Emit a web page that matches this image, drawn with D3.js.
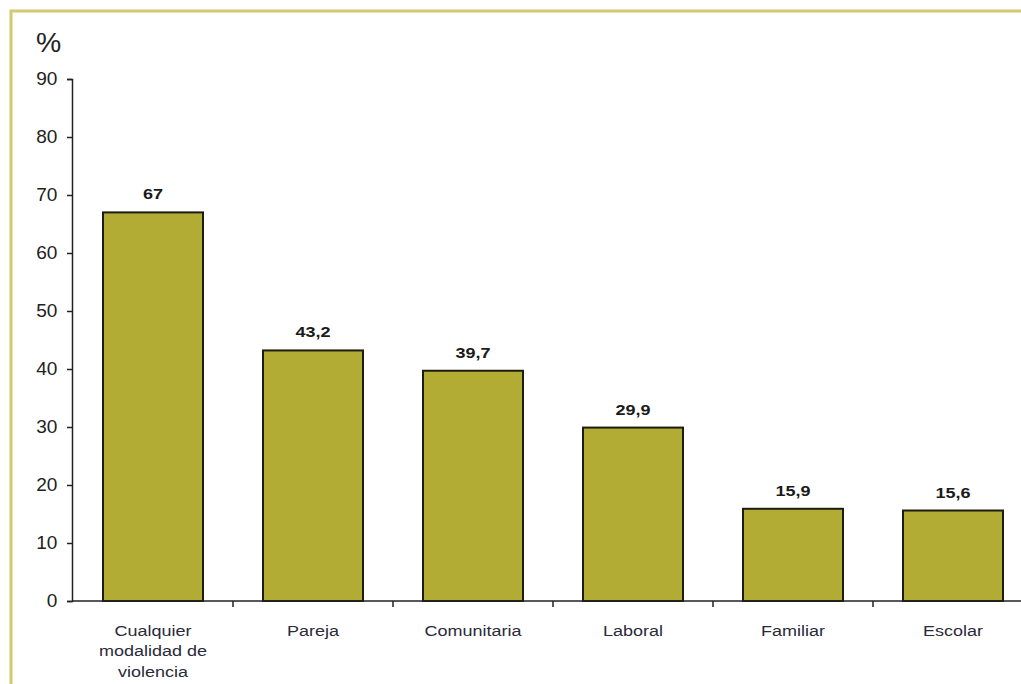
<!DOCTYPE html>
<html><head><meta charset="utf-8">
<script src="https://cdn.jsdelivr.net/npm/d3@7"></script>
<style>body{margin:0;background:#fff}svg{display:block}</style>
</head><body>
<script>
const categories = [["Cualquier","modalidad de","violencia"],["Pareja"],["Comunitaria"],["Laboral"],["Familiar"],["Escolar"]];
const values = [67, 43.2, 39.7, 29.9, 15.9, 15.6];
const valueLabels = ["67","43,2","39,7","29,9","15,9","15,6"];
const yTicks = [0,10,20,30,40,50,60,70,80,90];

const W = 1021, H = 684;
const FONT = "Liberation Sans, Arial, sans-serif";
const svg = d3.select("body").append("svg").attr("width", W).attr("height", H);

// frame
svg.append("path").attr("d", `M11,${H+5} L11,11 L${W+5},11`)
  .attr("fill","none").attr("stroke","#d6c872").attr("stroke-width",3);

const ids = categories.map((c,i)=>i);
const x = d3.scaleBand().domain(ids).range([73, 1033]).paddingInner(0.375).paddingOuter(0.1875);
const y = d3.scaleLinear().domain([0,90]).range([601,79]);

// y axis
const yAxis = d3.axisLeft(y).tickValues(yTicks).tickSize(5).tickPadding(9);
const gy = svg.append("g").attr("transform","translate(72,0)").call(yAxis);
gy.select(".domain").attr("stroke","#222").attr("stroke-width",1.5);
gy.selectAll(".tick line").attr("stroke","#222").attr("stroke-width",1.5);
gy.selectAll("text").attr("font-family",FONT).attr("font-size",18).attr("fill","#222")
  .attr("transform","scale(1.06,1)").attr("x",-14*1/1.06 - 0.6);

// bars
svg.append("g").selectAll("rect").data(values).join("rect")
  .attr("x",(d,i)=>x(i)).attr("width",x.bandwidth())
  .attr("y",d=>y(d)).attr("height",d=>y(0)-y(d))
  .attr("fill","#b3ac34").attr("stroke","#1c1c10").attr("stroke-width",2);

// x axis
svg.append("line").attr("x1",72).attr("x2",W+5).attr("y1",y(0)).attr("y2",y(0))
  .attr("stroke","#222").attr("stroke-width",1.5);
const bounds = ids.slice(1).map(i => x(i) - x.step()*x.paddingInner()/2);
svg.append("g").selectAll("line").data(bounds).join("line")
  .attr("x1",d=>d).attr("x2",d=>d).attr("y1",y(0)).attr("y2",y(0)+6)
  .attr("stroke","#222").attr("stroke-width",1.5);

// value labels
svg.append("g").selectAll("text").data(values).join("text")
  .attr("transform",(d,i)=>`translate(${x(i)+x.bandwidth()/2},${y(d)-13}) scale(1.2,1)`)
  .attr("text-anchor","middle").attr("font-family",FONT)
  .attr("font-size",15).attr("font-weight","bold").attr("fill","#1a1a1a")
  .text((d,i)=>valueLabels[i]);

// category labels
const cg = svg.append("g").selectAll("text").data(categories).join("text")
  .attr("transform",(d,i)=>`translate(${x(i)+x.bandwidth()/2},636) scale(1.2,1)`)
  .attr("text-anchor","middle").attr("font-family",FONT)
  .attr("font-size",15).attr("fill","#2a2a3a");
cg.selectAll("tspan").data(d=>d).join("tspan")
  .attr("x",0).attr("dy",(d,j)=>j===0?0:20.5).text(d=>d);

// unit
svg.append("text").attr("transform","translate(36,52) scale(1.05,1)").attr("font-family",FONT)
  .attr("font-size",27).attr("fill","#222").text("%");
</script>
</body></html>
